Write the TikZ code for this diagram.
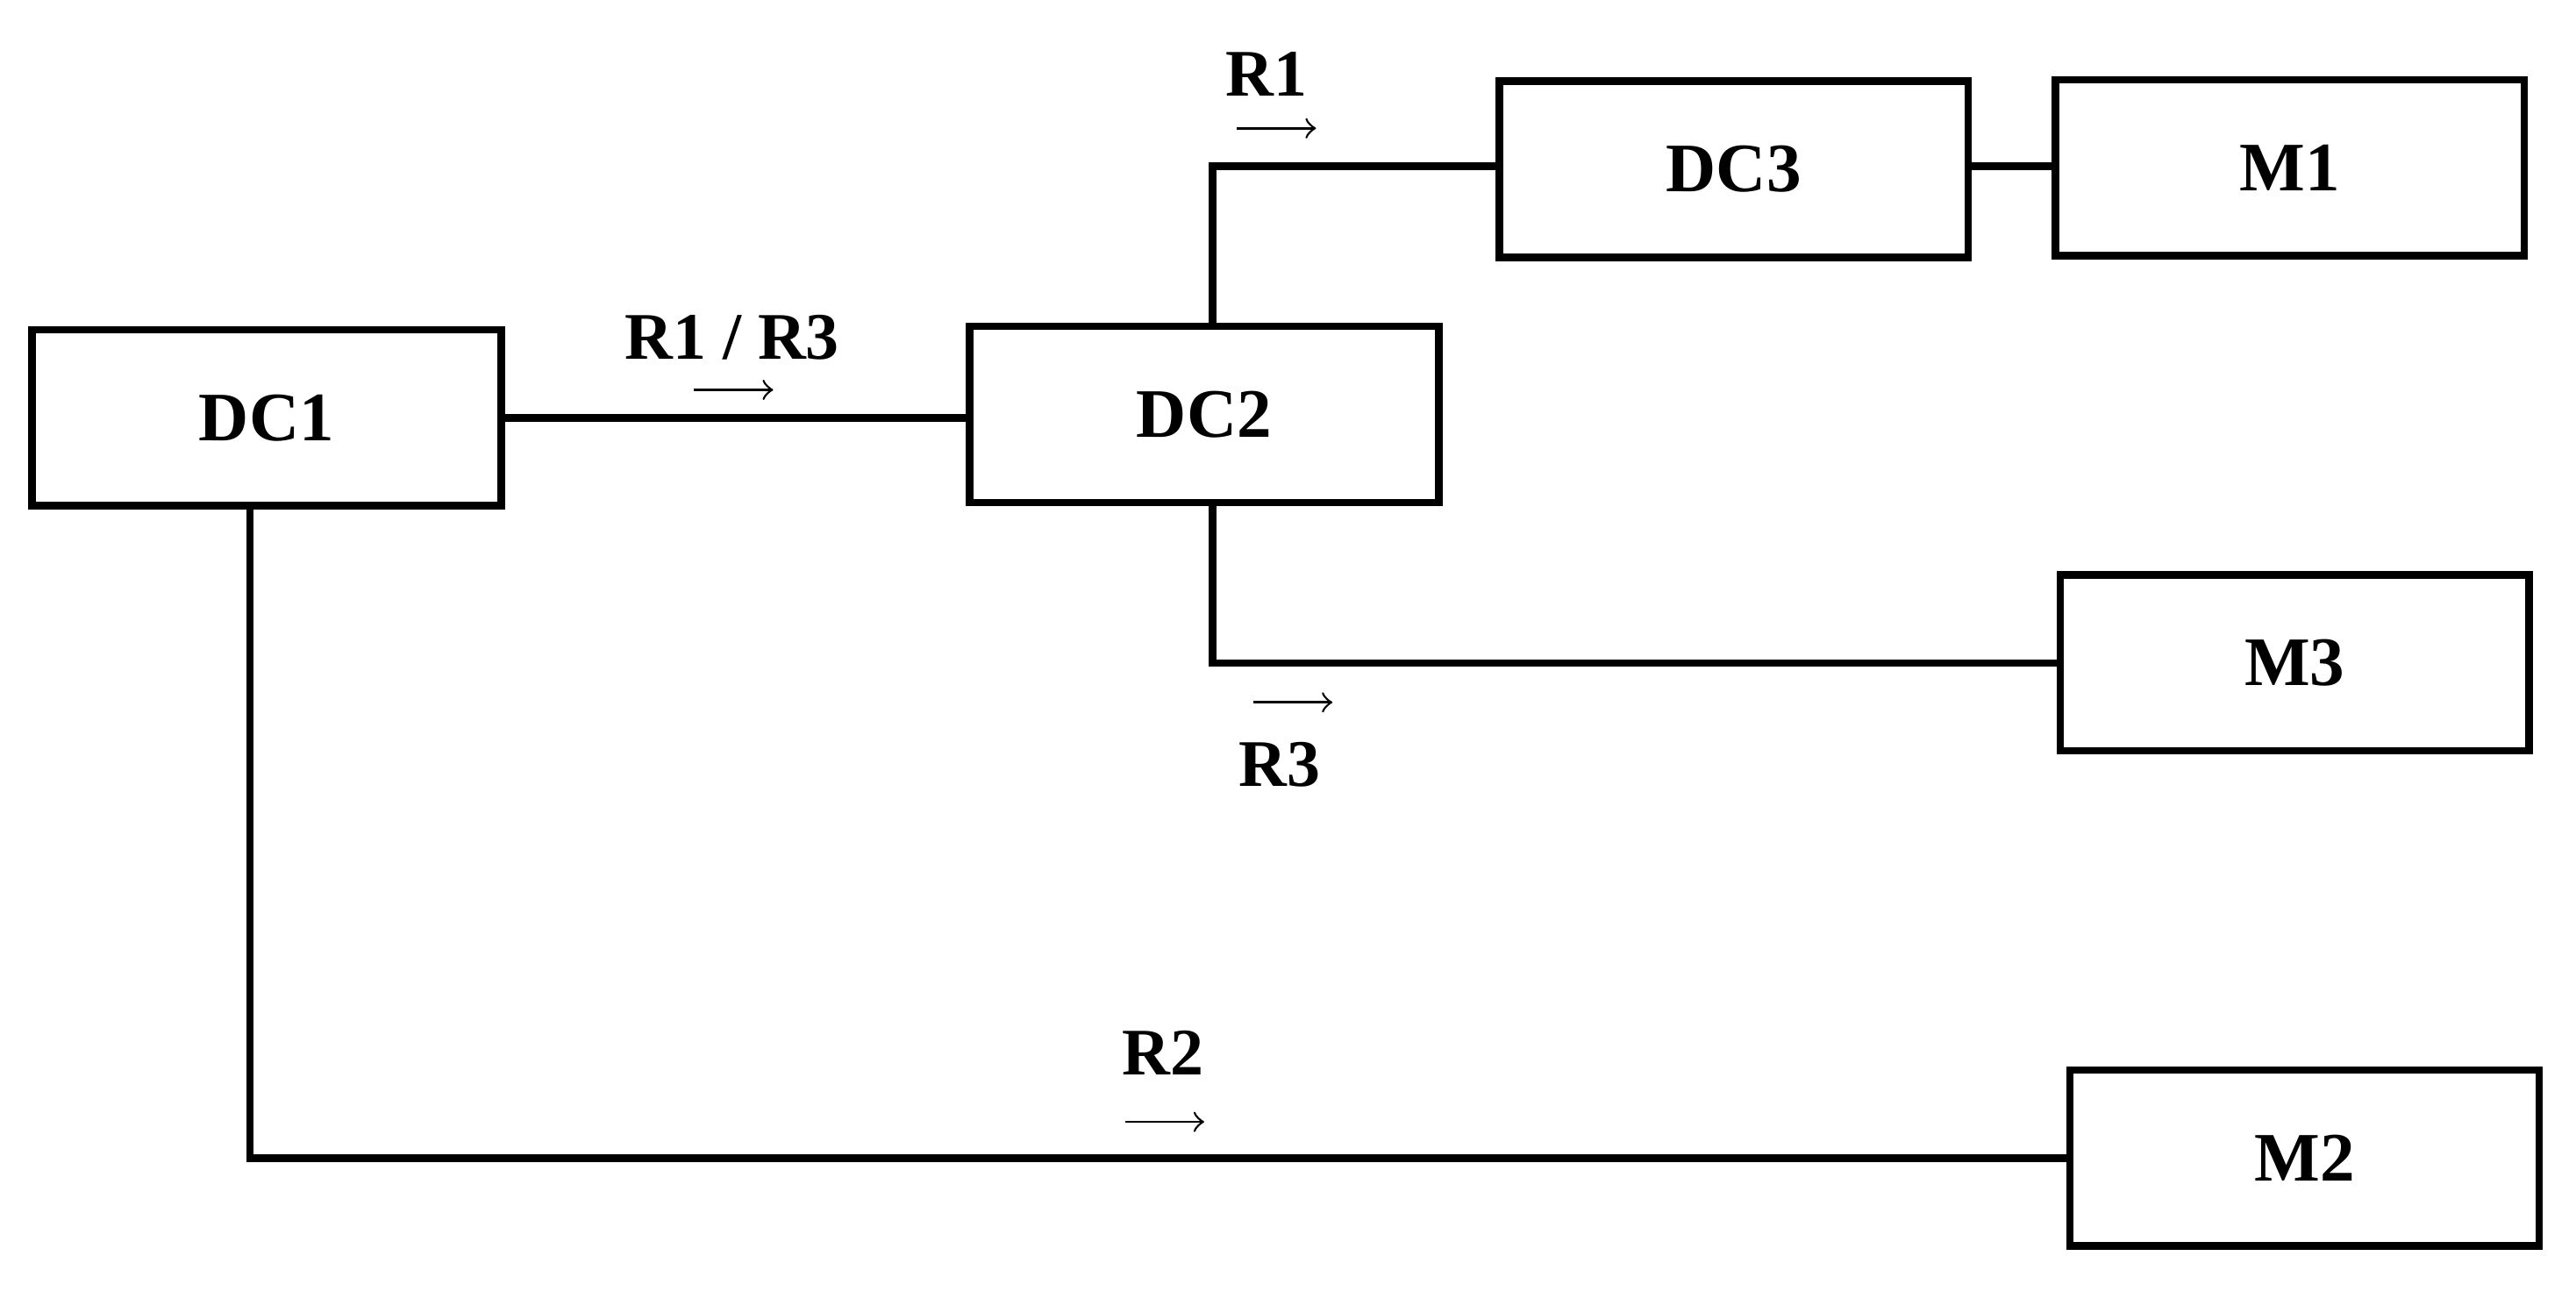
\documentclass[tikz,border=0pt]{standalone}
\usepackage{fontspec}
\setmainfont{Liberation Serif}
\begin{document}
\begin{tikzpicture}[x=0.01cm,y=-0.01cm,
  box/.style={draw,line width=1.3pt,minimum width=2.85cm,minimum height=1.07cm,inner sep=0pt,font=\fontsize{12}{14}\selectfont\bfseries},
  wire/.style={line width=1.3pt},
  lbl/.style={font=\fontsize{11.5}{14}\selectfont\bfseries},
  dir/.style={->,line width=0.4pt}]
\useasboundingbox (0,0) rectangle (1566,798);
\node[box] (dc1) at (162,254) {DC1};
\node[box] (dc2) at (732,252) {DC2};
\node[box] (dc3) at (1054,103) {DC3};
\node[box] (m1) at (1392,102) {M1};
\node[box] (m3) at (1395,403) {M3};
\node[box] (m2) at (1401,704) {M2};
\coordinate (a) at (737,101);
\coordinate (b) at (737,403);
\coordinate (c) at (152,704);
\coordinate (d) at (305,254);
\draw[wire] (d) -- (dc2.west |- d);
\draw[wire] (dc2.north -| a) -- (a) -- (dc3.west |- a);
\draw[wire] (dc3.east |- a) -- (m1.west |- a);
\draw[wire] (dc2.south -| b) -- (b) -- (m3.west);
\draw[wire] (dc1.south -| c) -- (c) -- (m2.west);
\node[lbl] (l1) at (445,205) {R1 / R3};
\coordinate (l1a) at (422,237); \coordinate (l1b) at (470,237);
\draw[dir] (l1a) -- (l1b);
\node[lbl] (l2) at (770,45) {R1};
\coordinate (l2a) at (752,78); \coordinate (l2b) at (800,78);
\draw[dir] (l2a) -- (l2b);
\node[lbl] (l3) at (778,465) {R3};
\coordinate (l3a) at (762,427); \coordinate (l3b) at (810,427);
\draw[dir] (l3a) -- (l3b);
\node[lbl] (l4) at (707,640) {R2};
\coordinate (l4a) at (684,682); \coordinate (l4b) at (732,682);
\draw[dir] (l4a) -- (l4b);
\end{tikzpicture}
\end{document}
